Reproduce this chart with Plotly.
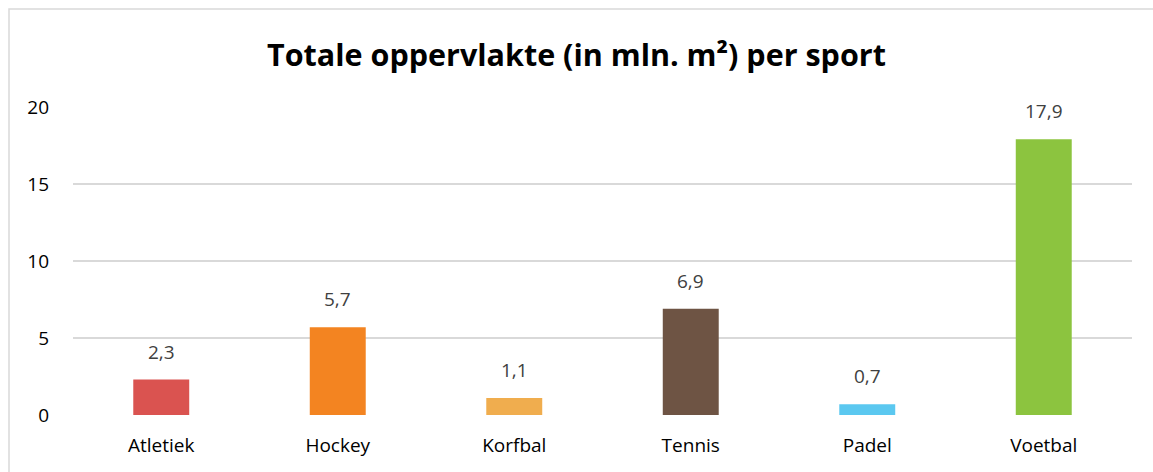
import plotly.graph_objects as go

categories = ["Atletiek", "Hockey", "Korfbal", "Tennis", "Padel", "Voetbal"]
values = [2.3, 5.7, 1.1, 6.9, 0.7, 17.9]
bar_colors = ["#DA5350", "#F38421", "#F0AD4E", "#6E5444", "#5BC8F0", "#8CC43F"]
y_ticks = [0, 5, 10, 15, 20]
title_text = "Totale oppervlakte (in mln. m²) per sport"

FONT = "Open Sans"

fig = go.Figure(
    go.Bar(
        x=categories,
        y=values,
        marker=dict(color=bar_colors, line=dict(width=0)),
        hoverinfo="skip",
    )
)

for c, v in zip(categories, values):
    fig.add_annotation(
        x=c, y=v, text=f"{v:.1f}".replace(".", ","),
        showarrow=False, yanchor="bottom", yshift=13,
        font=dict(family=FONT, size=19, color="#404040"),
    )

W, H = 1153, 472
L, R, T, B = 73, 21, 107, 57
pw, ph = W - L - R, H - T - B

def px_x(p):
    return (p - L) / pw

def px_y(p):
    return (H - B - p) / ph

fig.add_shape(
    type="rect", xref="paper", yref="paper",
    x0=px_x(9), x1=px_x(1170), y0=px_y(490), y1=px_y(9),
    line=dict(color="#D9D9D9", width=1.5), fillcolor="rgba(0,0,0,0)", layer="below",
)

fig.update_layout(
    width=W, height=H,
    margin=dict(l=L, r=R, t=T, b=B),
    paper_bgcolor="white", plot_bgcolor="white",
    bargap=0.683,
    showlegend=False,
    title=dict(
        text=f"<b>{title_text}</b>", x=0.5, xanchor="center",
        y=1 - 55 / H, yanchor="middle", yref="container",
        font=dict(family=FONT, size=30.5, color="#000000"),
    ),
    font=dict(family=FONT, size=19, color="#000000"),
    xaxis=dict(
        showgrid=False, showline=False, zeroline=False, ticks="",
        ticklabelstandoff=17, tickfont=dict(size=19, color="#000000"),
    ),
    yaxis=dict(
        range=[0, 20], tickvals=y_ticks, showgrid=True, gridcolor="#D9D9D9",
        gridwidth=1.5, zeroline=False, showline=False, ticks="",
        ticklabelstandoff=23, tickfont=dict(size=19, color="#000000"),
    ),
)

fig.write_html("out.html")
